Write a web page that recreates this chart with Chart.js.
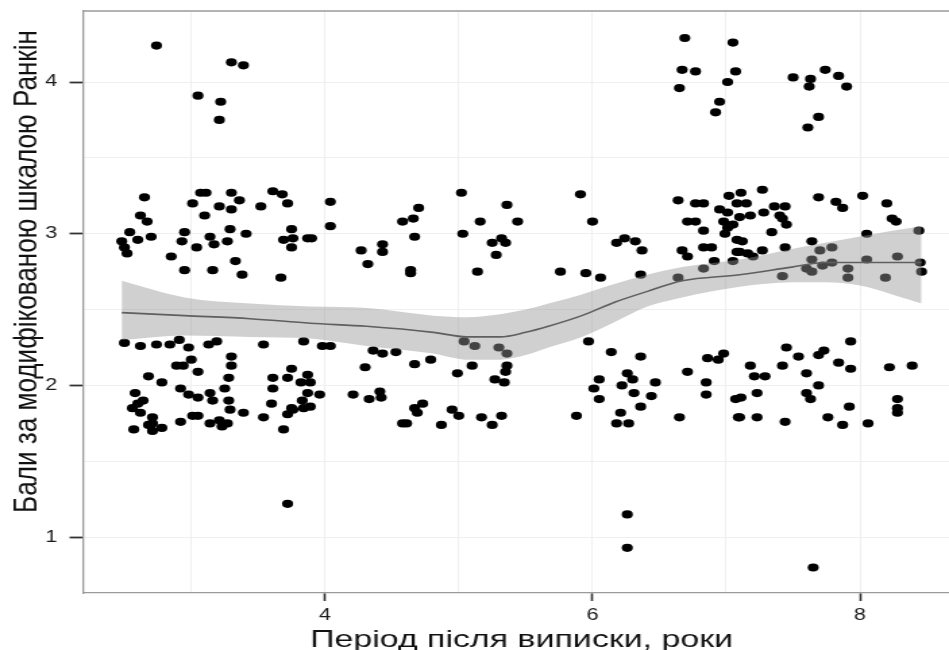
<!DOCTYPE html>
<html><head><meta charset="utf-8">
<script src="https://cdn.jsdelivr.net/npm/chart.js@4.4.1/dist/chart.umd.min.js"></script>
<style>
html,body{margin:0;padding:0;background:#fff;overflow:hidden;}
#wrap{width:703px;height:650px;transform:scaleX(1.34993);transform-origin:0 0;}
canvas{display:block;}
</style></head><body>
<div id="wrap"><canvas id="c" width="703" height="650"></canvas></div>
<script>
// ---- data (period after discharge, years ; modified Rankin score) ----
const xHigh = [2.74,3.05,3.22,3.21,3.30,3.39,6.69,6.67,6.77,6.65,7.05,7.07,7.01,6.95,6.92,7.50,7.63,7.62,7.74,7.84,7.90,7.69,7.61];
const yHigh = [4.24,3.91,3.87,3.75,4.13,4.11,4.29,4.08,4.07,3.96,4.26,4.07,4.00,3.87,3.80,4.03,4.02,3.97,4.08,4.04,3.97,3.77,3.70];

const xMidA = [2.65,3.01,3.07,3.11,3.21,3.30,3.36,3.52,3.61,3.68,3.72,3.30,2.62,2.67,3.10,2.54,2.70,2.60,2.48,2.50,2.52,2.95,3.14,3.29,3.41,2.93,3.04,3.17,3.27,3.75,3.69,3.76,3.75,3.87,2.85,3.33,2.95,3.16,3.38,3.67];
const yMidA = [3.24,3.20,3.27,3.27,3.18,3.27,3.22,3.18,3.28,3.26,3.20,3.16,3.12,3.08,3.12,3.01,2.98,2.96,2.95,2.91,2.87,3.01,2.98,3.03,3.00,2.95,2.91,2.93,2.95,3.03,2.96,2.97,2.91,2.97,2.85,2.82,2.76,2.76,2.73,2.71];
const xMidB = [4.04,4.70,5.02,5.36,4.04,4.58,4.66,4.67,5.16,5.44,3.90,5.03,5.25,5.32,5.35,5.28,4.27,4.43,4.43,4.32,4.64,4.64,5.14];
const yMidB = [3.21,3.17,3.27,3.19,3.05,3.08,3.10,2.98,3.08,3.08,2.97,3.00,2.94,2.97,2.94,2.86,2.89,2.93,2.88,2.80,2.76,2.74,2.75];
const xMidC = [6.00,5.91,6.64,6.77,6.83,6.95,7.01,7.08,7.02,7.11,6.71,6.77,6.83,6.98,7.05,6.99,7.08,6.18,6.24,6.32,6.37,6.67,6.71,6.83,6.89,7.08,5.76,5.95,6.06,6.36,6.64,6.83,6.91,7.05];
const yMidC = [3.08,3.26,3.22,3.20,3.20,3.16,3.14,3.20,3.25,3.27,3.08,3.08,3.02,3.08,3.06,3.00,2.96,2.94,2.97,2.95,2.89,2.89,2.85,2.91,2.91,2.88,2.75,2.74,2.71,2.73,2.71,2.77,2.82,2.82];
const xMidD = [7.15,7.27,7.36,7.44,7.18,7.10,7.28,7.40,7.42,7.45,7.01,7.34,7.69,7.82,7.87,8.02,8.20,8.24,8.27,8.05,7.12,7.64,7.10,7.16,7.20,7.27,7.44,7.70,7.79,7.64,7.79,7.72,7.60,7.64,7.91,7.91,7.42,8.05,8.19,8.28,8.44,8.45,8.46];
const yMidD = [3.20,3.29,3.18,3.18,3.12,3.11,3.14,3.12,3.10,3.06,3.04,3.01,3.24,3.21,3.17,3.25,3.20,3.10,3.08,3.00,2.95,2.95,2.88,2.87,2.85,2.89,2.91,2.89,2.91,2.83,2.81,2.79,2.77,2.75,2.77,2.71,2.72,2.83,2.71,2.85,3.02,2.81,2.75];

const xLowA = [2.50,2.62,2.74,2.84,2.91,2.98,3.13,3.19,3.54,3.84,3.30,3.30,3.00,2.89,2.94,3.05,2.68,2.78,3.28,3.75,3.61,3.72,3.87,3.82,3.61,2.92,2.58,2.98,3.05,3.14,3.25,3.16,3.28,2.64,2.60,3.60,3.83,3.87,3.75,2.56,2.57,2.71,2.71,2.71,2.78,2.92,3.01,3.05,3.14,3.21,3.23,3.27,3.29,3.39,3.54,3.69,3.72,3.76,3.84,3.72,2.62,2.68];
const yLowA = [2.28,2.26,2.27,2.27,2.30,2.25,2.27,2.29,2.27,2.29,2.19,2.13,2.17,2.13,2.13,2.09,2.06,2.02,2.05,2.11,2.05,2.05,2.07,2.02,1.98,1.98,1.95,1.94,1.92,1.95,1.98,1.90,1.90,1.90,1.88,1.88,1.90,1.95,1.85,1.85,1.71,1.79,1.75,1.70,1.72,1.76,1.80,1.80,1.75,1.77,1.73,1.75,1.84,1.82,1.79,1.71,1.81,1.84,1.85,1.22,1.82,1.74];
const xLowB = [3.98,4.04,4.36,4.43,4.53,5.04,5.12,5.30,5.36,4.30,4.67,4.79,5.10,4.99,5.36,5.35,5.27,5.34,3.89,3.96,4.21,4.33,4.41,4.42,4.73,4.67,4.95,3.89,4.69,4.61,4.58,4.87,5.00,5.17,5.25,5.32];
const yLowB = [2.26,2.26,2.23,2.21,2.22,2.29,2.26,2.25,2.21,2.12,2.14,2.17,2.13,2.08,2.13,2.09,2.04,2.02,2.02,1.94,1.94,1.91,1.96,1.92,1.88,1.85,1.84,1.86,1.82,1.75,1.75,1.74,1.80,1.79,1.74,1.80];
const xLowC = [5.97,6.14,6.36,6.86,6.94,6.98,6.71,6.26,6.30,6.22,6.05,6.01,6.47,6.31,6.44,6.05,6.85,6.85,7.07,6.36,5.88,6.21,6.18,6.27,6.65,7.09,6.26,6.26];
const yLowC = [2.29,2.22,2.19,2.18,2.17,2.21,2.09,2.08,2.04,2.00,2.04,1.98,2.02,1.95,1.93,1.91,2.02,1.94,1.91,1.86,1.80,1.82,1.75,1.75,1.79,1.79,1.15,0.93];
const xLowD = [7.93,7.45,7.54,7.69,7.73,7.18,7.42,7.84,7.93,8.22,8.39,7.21,7.29,7.60,7.69,7.23,7.11,7.60,7.63,7.92,8.28,8.28,7.10,7.23,7.44,7.76,7.87,8.06,8.28,7.65];
const yLowD = [2.29,2.25,2.19,2.20,2.23,2.13,2.13,2.15,2.11,2.12,2.13,2.06,2.06,2.08,2.00,1.95,1.92,1.95,1.91,1.86,1.91,1.85,1.79,1.79,1.76,1.79,1.74,1.75,1.82,0.80];

// loess smooth with confidence band
const smoothX    = [2.48,2.95,3.44,3.89,4.31,4.81,5.06,5.31,5.50,5.67,5.92,6.17,6.41,6.67,7.10,7.49,7.74,7.99,8.24,8.46];
const smoothFit  = [2.48,2.46,2.44,2.41,2.39,2.35,2.32,2.32,2.35,2.39,2.46,2.55,2.62,2.69,2.73,2.78,2.81,2.81,2.81,2.81];
const smoothLow  = [2.30,2.33,2.32,2.31,2.26,2.21,2.17,2.17,2.20,2.25,2.32,2.42,2.52,2.58,2.65,2.68,2.68,2.66,2.60,2.54];
const smoothHigh = [2.69,2.58,2.54,2.52,2.51,2.46,2.45,2.47,2.50,2.54,2.60,2.67,2.73,2.78,2.83,2.90,2.94,2.98,3.02,3.05];

const xTickLabels = [4, 6, 8];
const yTickLabels = [1, 2, 3, 4];
const xTitle = 'Період після виписки, роки';
const yTitle = 'Бали за модифікованою шкалою Ранкін';

// ---- build ----
const allX = [].concat(xHigh, xMidA, xMidB, xMidC, xMidD, xLowA, xLowB, xLowC, xLowD);
const allY = [].concat(yHigh, yMidA, yMidB, yMidC, yMidD, yLowA, yLowB, yLowC, yLowD);
const pts = allX.map((x, i) => ({x, y: allY[i]}));
const toXY = arr => smoothX.map((x, i) => ({x, y: arr[i]}));

const frame = {
  id: 'frame',
  afterDatasetsDraw(chart) {
    const {ctx, chartArea: a} = chart;
    ctx.save();
    ctx.strokeStyle = '#9a9a9a';
    ctx.lineWidth = 1.3;
    ctx.beginPath();
    ctx.moveTo(a.left, a.top); ctx.lineTo(a.right, a.top);
    ctx.stroke();
    ctx.restore();
  }
};
const titles = {
  id: 'titles',
  afterDraw(chart) {
    const ctx = chart.ctx;
    ctx.save();
    ctx.fillStyle = '#111';
    ctx.font = '24px "Liberation Sans", Arial, sans-serif';
    ctx.textAlign = 'center';
    ctx.textBaseline = 'alphabetic';
    let w = ctx.measureText(xTitle).width;
    ctx.save();
    ctx.translate(386.3, 647);
    ctx.scale(313.3 / w, 1);
    ctx.fillText(xTitle, 0, 0);
    ctx.restore();
    w = ctx.measureText(yTitle).width;
    ctx.save();
    ctx.translate(27.4, 271.5);
    ctx.rotate(-Math.PI / 2);
    ctx.scale(483 / w, 1);
    ctx.fillText(yTitle, 0, 0);
    ctx.restore();
    ctx.restore();
  }
};

const noPad = s => { s.paddingTop = 0; s.paddingBottom = 0; s.paddingLeft = 0; s.paddingRight = 0; };
const tickFont = {family: '"Liberation Sans", Arial, sans-serif', size: 16};

new Chart(document.getElementById('c'), {
  type: 'scatter',
  data: {
    datasets: [
      {label: 'points', data: pts, order: 3, pointRadius: 4.1, pointHoverRadius: 4.1,
       backgroundColor: '#000', borderWidth: 0},
      {label: 'upper', type: 'line', data: toXY(smoothHigh), order: 2, pointRadius: 0,
       borderColor: 'rgba(0,0,0,0)', borderWidth: 1, fill: '+1',
       backgroundColor: 'rgba(150,150,150,0.45)', cubicInterpolationMode: 'monotone'},
      {label: 'lower', type: 'line', data: toXY(smoothLow), order: 2, pointRadius: 0,
       borderColor: 'rgba(0,0,0,0)', borderWidth: 1, fill: false, cubicInterpolationMode: 'monotone'},
      {label: 'fit', type: 'line', data: toXY(smoothFit), order: 1, pointRadius: 0,
       borderColor: '#5f5f5f', borderWidth: 1.6, fill: false, cubicInterpolationMode: 'monotone'}
    ]
  },
  options: {
    responsive: false,
    animation: false,
    devicePixelRatio: 1,
    layout: {autoPadding: false, padding: {top: 11, right: 0, left: 0, bottom: 0}},
    plugins: {legend: {display: false}, tooltip: {enabled: false}},
    scales: {
      x: {
        type: 'linear', min: 2.1907, max: 8.6654,
        afterFit: s => { s.height = 57; noPad(s); },
        border: {display: true, color: '#9a9a9a', width: 1.3},
        grid: {
          color: '#efefef', lineWidth: 1, drawTicks: true, tickLength: 8, tickWidth: 1.6,
          tickColor: c => (c.tick && xTickLabels.includes(c.tick.value)) ? '#333' : 'rgba(0,0,0,0)'
        },
        ticks: {
          stepSize: 1, includeBounds: false, autoSkip: false, maxRotation: 0, padding: 5,
          color: '#1a1a1a', font: tickFont,
          callback: v => xTickLabels.includes(v) ? String(v) : ''
        }
      },
      y: {
        type: 'linear', min: 0.632, max: 4.468,
        afterFit: s => { s.width = 61.5; noPad(s); },
        border: {display: true, color: '#9a9a9a', width: 1.3},
        grid: {
          color: '#efefef', lineWidth: 1, drawTicks: true, tickLength: 10, tickWidth: 1.8,
          tickColor: c => (c.tick && yTickLabels.includes(c.tick.value)) ? '#333' : 'rgba(0,0,0,0)'
        },
        ticks: {
          stepSize: 0.5, includeBounds: false, autoSkip: false, padding: 9,
          color: '#1a1a1a', font: tickFont,
          callback: v => yTickLabels.includes(v) ? String(v) : ''
        }
      }
    }
  },
  plugins: [frame, titles]
});
</script>
</body></html>
